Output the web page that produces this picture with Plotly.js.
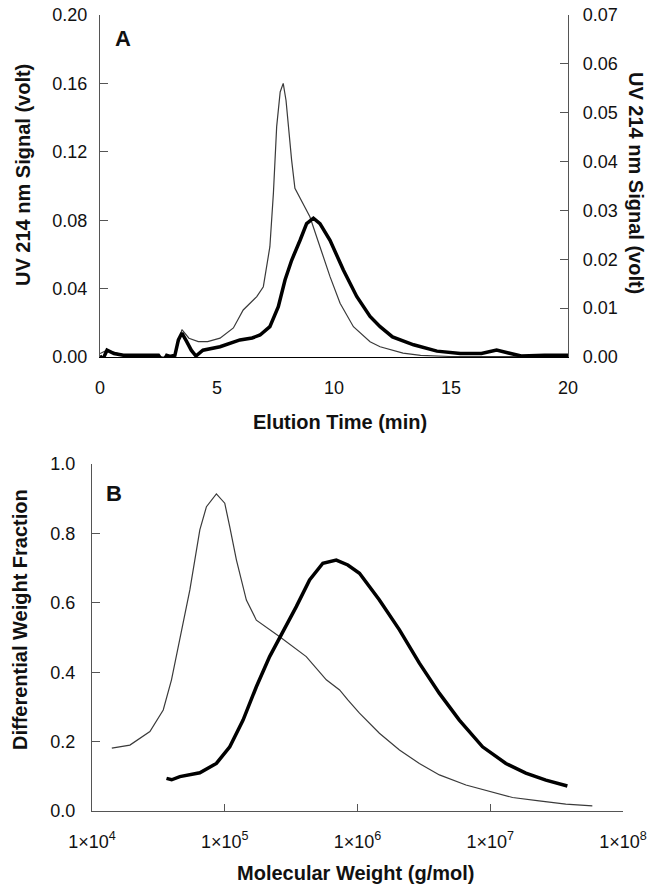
<!DOCTYPE html>
<html>
<head>
<meta charset="utf-8">
<script src="https://cdn.plot.ly/plotly-3.0.1.min.js"></script>
<style>html,body{margin:0;padding:0;background:#fff;overflow:hidden}</style>
</head>
<body>
<div id="chart" style="width:648px;height:890px"></div>
<script>
// ---- Panel A: elution time (min) vs UV 214 nm signal ----
const timeThin = [0, 0.3, 1, 2, 2.7, 3.2, 3.5, 3.8, 4.2, 4.6, 5.13, 5.7, 6.12, 6.7, 6.98, 7.26, 7.41, 7.55, 7.7, 7.83, 7.95, 8.05, 8.19, 8.33, 8.62, 8.97, 9.4, 9.83, 10.26, 10.83, 11.54, 11.97, 12.95, 13.7, 15, 17, 20];
// thin trace, left axis (volt)
const signalThin = [0.002, 0.004, 0.001, 0.001, 0.0, 0.001, 0.016, 0.011, 0.009, 0.009, 0.011, 0.017, 0.0275, 0.0353, 0.0411, 0.0645, 0.0957, 0.1347, 0.155, 0.160, 0.150, 0.1347, 0.115, 0.0987, 0.0908, 0.082, 0.0645, 0.047, 0.0314, 0.0177, 0.0089, 0.006, 0.0023, 0.001, 0.0003, 0.0003, 0.0002];

const timeThick = [0, 0.1, 0.3, 0.6, 1, 1.5, 2, 2.5, 2.7, 2.85, 3.0, 3.2, 3.35, 3.5, 3.7, 3.9, 4.1, 4.4, 5.13, 5.98, 6.5, 6.84, 7.26, 7.62, 7.91, 8.19, 8.55, 8.83, 9.12, 9.4, 9.83, 10.4, 10.97, 11.54, 11.97, 12.5, 13.4, 14.4, 15.4, 16.3, 16.95, 17.5, 18, 19, 20];
// thick trace, right axis (volt)
const signalThick = [0.0003, -0.0007, 0.0014, 0.0007, 0.00035, 0.00035, 0.00035, 0.00035, -0.001, 0.00035, 0.0001, 0.00035, 0.0035, 0.0049, 0.0032, 0.0014, 0.0002, 0.0014, 0.0021, 0.0035, 0.0039, 0.0045, 0.0062, 0.0103, 0.0158, 0.0198, 0.0239, 0.0273, 0.0284, 0.0273, 0.0239, 0.0178, 0.0124, 0.0083, 0.0062, 0.0041, 0.0025, 0.0012, 0.0007, 0.0007, 0.0014, 0.0007, 0.0002, 0.00035, 0.00035];

const timeTicks = [0, 5, 10, 15, 20];
const leftTicks = [0, 0.04, 0.08, 0.12, 0.16, 0.20];
const rightTicks = [0, 0.01, 0.02, 0.03, 0.04, 0.05, 0.06, 0.07];

// ---- Panel B: molecular weight (g/mol) vs differential weight fraction ----
const mwThin = [14100, 19300, 27300, 34400, 39700, 45900, 54600, 64900, 72800, 86500, 100000, 109100, 122500, 145500, 173000, 259400, 411100, 582100, 733000, 845300, 1035000, 1462000, 2070000, 2924000, 4140000, 6561000, 9817000, 14720000, 23330000, 37070000, 58750000];
const fracThin = [0.181, 0.190, 0.229, 0.291, 0.378, 0.493, 0.637, 0.810, 0.877, 0.914, 0.887, 0.819, 0.723, 0.608, 0.550, 0.502, 0.445, 0.378, 0.349, 0.320, 0.282, 0.224, 0.176, 0.137, 0.104, 0.075, 0.056, 0.039, 0.029, 0.020, 0.015];

const mwThick = [36400, 39800, 45900, 64900, 86500, 109100, 137400, 173000, 217800, 266700, 345900, 435500, 548300, 691800, 845300, 1035000, 1462000, 2070000, 2924000, 4140000, 5848000, 8750000, 13120000, 18540000, 26240000, 38110000];
const fracThick = [0.094, 0.090, 0.099, 0.110, 0.137, 0.185, 0.262, 0.358, 0.445, 0.507, 0.589, 0.666, 0.714, 0.723, 0.709, 0.685, 0.608, 0.522, 0.426, 0.339, 0.262, 0.185, 0.137, 0.109, 0.089, 0.072];

const mwTicks = [1e4, 1e5, 1e6, 1e7, 1e8];
const mwTickText = ['1×10<sup>4</sup>', '1×10<sup>5</sup>', '1×10<sup>6</sup>', '1×10<sup>7</sup>', '1×10<sup>8</sup>'];
const fracTicks = [0, 0.2, 0.4, 0.6, 0.8, 1.0];

const FONT = 'Arial, "Liberation Sans", Helvetica, sans-serif';
const thinLine = {color: '#3a3a3a', width: 1.2};
const thickLine = {color: '#000', width: 3.5};

const traces = [
  {x: timeThin, y: signalThin, xaxis: 'x', yaxis: 'y', mode: 'lines', line: thinLine, hoverinfo: 'skip'},
  {x: timeThick, y: signalThick, xaxis: 'x', yaxis: 'y2', mode: 'lines', line: thickLine, hoverinfo: 'skip'},
  {x: mwThin, y: fracThin, xaxis: 'x2', yaxis: 'y3', mode: 'lines', line: thinLine, hoverinfo: 'skip'},
  {x: mwThick, y: fracThick, xaxis: 'x2', yaxis: 'y3', mode: 'lines', line: thickLine, hoverinfo: 'skip'}
];

const tickFont = {family: FONT, size: 18, color: '#111'};
const titleFont = {family: FONT, size: 20, color: '#111'};

const W = 648, H = 890;
const px = v => v / W;
const py = v => 1 - v / H;

const layout = {
  width: W, height: H, autosize: false,
  margin: {l: 0, r: 0, t: 0, b: 0, pad: 0},
  paper_bgcolor: '#fff', plot_bgcolor: '#fff',
  showlegend: false,
  font: {family: FONT, size: 18, color: '#111'},
  xaxis: {
    domain: [px(100), px(568)], anchor: 'y', range: [0, 20],
    tickvals: timeTicks, ticks: '', showgrid: false, zeroline: false,
    showline: true, linecolor: '#000', linewidth: 1.2,
    tickfont: tickFont, ticklabelstandoff: 14
  },
  yaxis: {
    domain: [py(357), py(15)], anchor: 'x', range: [0, 0.20],
    tickvals: leftTicks, tickformat: '.2f', ticks: 'inside', ticklen: 8, tickcolor: '#555',
    showgrid: false, zeroline: false, showline: true, linecolor: '#555', linewidth: 1.2,
    tickfont: tickFont, ticklabelstandoff: 8
  },
  yaxis2: {
    overlaying: 'y', side: 'right', anchor: 'x', range: [0, 0.07],
    tickvals: rightTicks, tickformat: '.2f', ticks: 'inside', ticklen: 8, tickcolor: '#555',
    showgrid: false, zeroline: false, showline: true, linecolor: '#555', linewidth: 1.2,
    tickfont: tickFont, ticklabelstandoff: 10
  },
  xaxis2: {
    domain: [px(92), px(623)], anchor: 'y3', type: 'log', range: [4, 8],
    tickvals: mwTicks, ticktext: mwTickText, ticks: 'inside', ticklen: 7, tickcolor: '#555',
    showgrid: false, zeroline: false, showline: true, linecolor: '#555', linewidth: 1.2,
    tickfont: tickFont, ticklabelstandoff: 14
  },
  yaxis3: {
    domain: [py(811), py(464)], anchor: 'x2', range: [0, 1.0],
    tickvals: fracTicks, tickformat: '.1f', ticks: 'inside', ticklen: 8, tickcolor: '#555',
    showgrid: false, zeroline: false, showline: true, linecolor: '#555', linewidth: 1.2,
    tickfont: tickFont, ticklabelstandoff: 12
  },
  annotations: [
    {text: '<b>UV 214 nm Signal (volt)</b>', xref: 'paper', yref: 'paper', x: px(23), y: py(175), textangle: -90, showarrow: false, font: titleFont, xanchor: 'center', yanchor: 'middle'},
    {text: '<b>UV 214 nm Signal (volt)</b>', xref: 'paper', yref: 'paper', x: px(636), y: py(183), textangle: 90, showarrow: false, font: titleFont, xanchor: 'center', yanchor: 'middle'},
    {text: '<b>Elution Time (min)</b>', xref: 'paper', yref: 'paper', x: px(340), y: py(422), showarrow: false, font: titleFont, xanchor: 'center', yanchor: 'middle'},
    {text: '<b>Molecular Weight (g/mol)</b>', xref: 'paper', yref: 'paper', x: px(355), y: py(873), showarrow: false, font: titleFont, xanchor: 'center', yanchor: 'middle'},
    {text: '<b>Differential Weight Fraction</b>', xref: 'paper', yref: 'paper', x: px(20), y: py(620), textangle: -90, showarrow: false, font: titleFont, xanchor: 'center', yanchor: 'middle'},
    {text: '<b>A</b>', xref: 'paper', yref: 'paper', x: px(123), y: py(39), showarrow: false, font: {family: FONT, size: 22, color: '#111'}, xanchor: 'center', yanchor: 'middle'},
    {text: '<b>B</b>', xref: 'paper', yref: 'paper', x: px(114), y: py(493), showarrow: false, font: {family: FONT, size: 22, color: '#111'}, xanchor: 'center', yanchor: 'middle'}
  ]
};

Plotly.newPlot('chart', traces, layout, {staticPlot: true, displayModeBar: false});
</script>
</body>
</html>
